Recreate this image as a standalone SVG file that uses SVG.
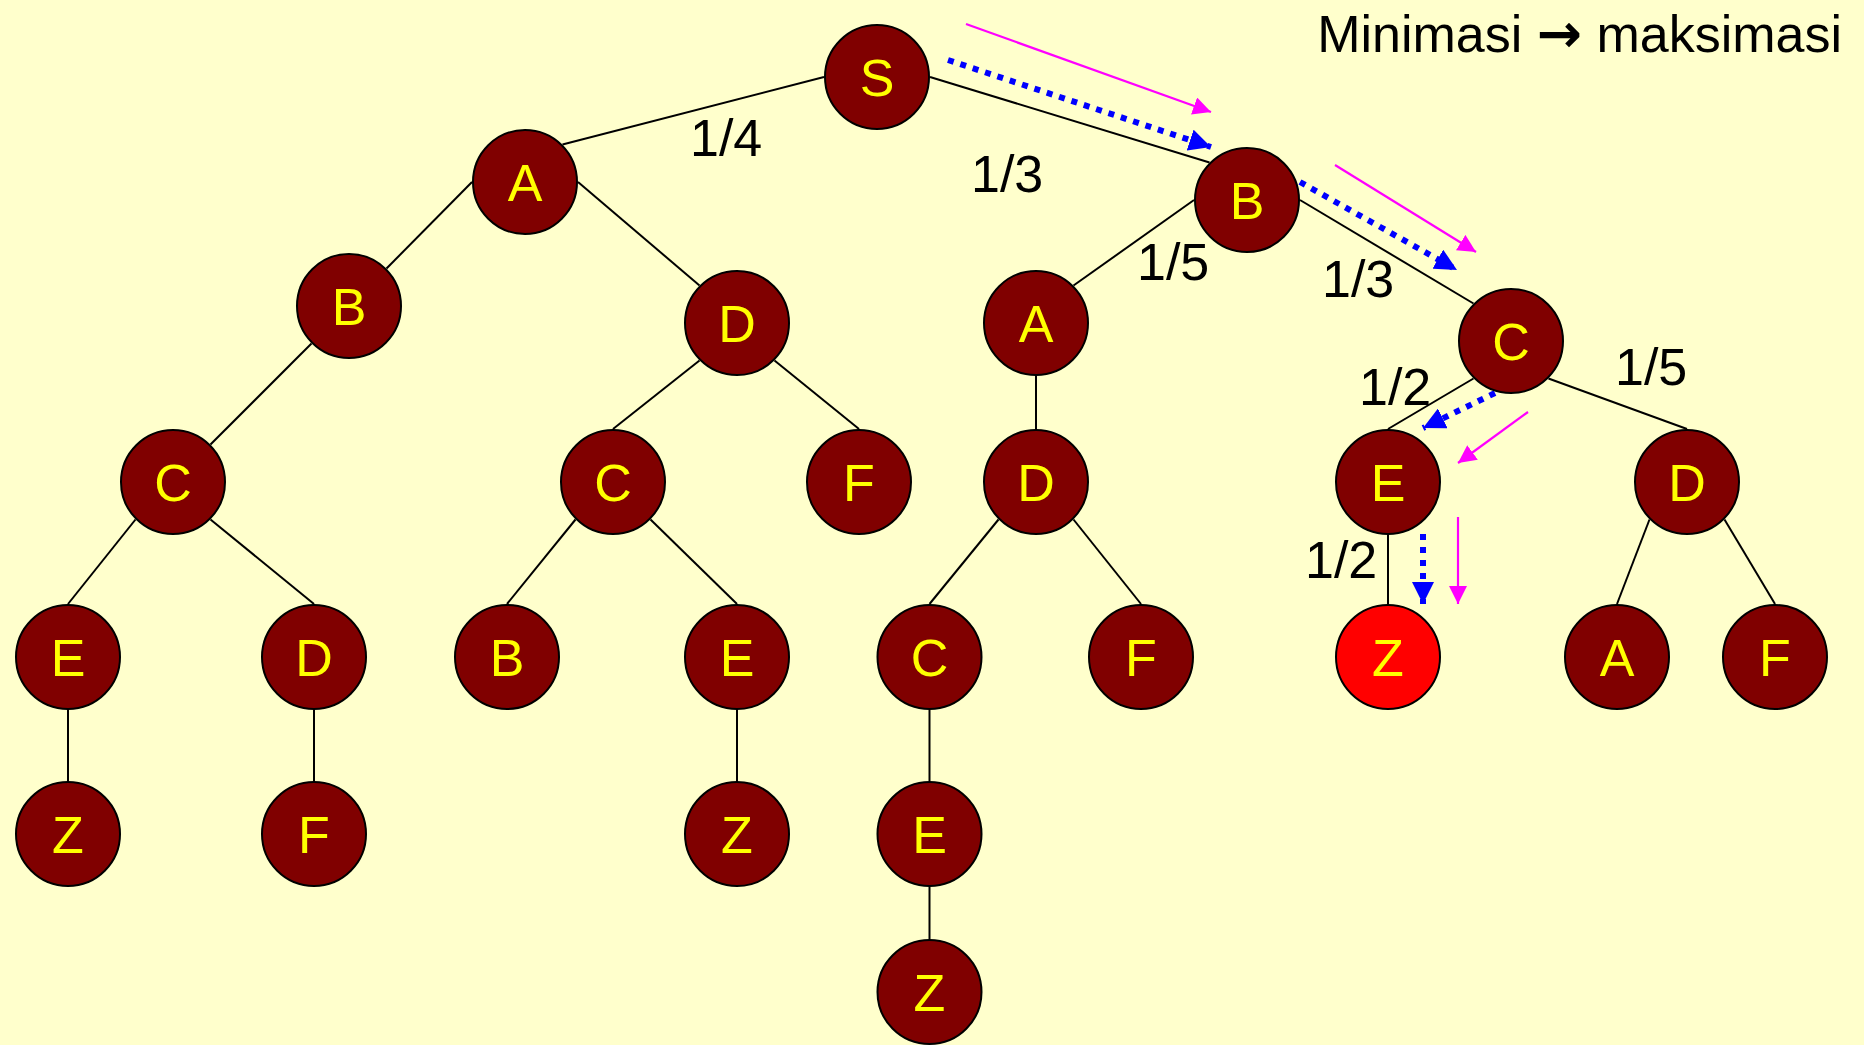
<svg xmlns="http://www.w3.org/2000/svg" width="1864" height="1045" viewBox="0 0 1864 1045">
<defs>
<style>
.n circle{fill:#800000;stroke:#000;stroke-width:2}
.n.goal circle{fill:#FF0000}
.n text{fill:#FFFF00;font-family:"Liberation Sans",Arial,sans-serif;font-size:52px;text-anchor:middle}
.e line{stroke:#000;stroke-width:2}
.lbl{fill:#000;font-family:"Liberation Sans",Arial,sans-serif;font-size:52px}
.blue{stroke:#0000FF;stroke-width:6;stroke-dasharray:6 7;fill:none}
.mag{stroke:#FF00FF;stroke-width:2.2;fill:none}
</style>
<marker id="hb" markerUnits="userSpaceOnUse" markerWidth="22" markerHeight="22" viewBox="0 0 20 20" refX="20" refY="10" orient="auto"><path d="M0,0 L20,10 L0,20 Z" fill="#0000FF"/></marker>
<marker id="hm" markerUnits="userSpaceOnUse" markerWidth="18" markerHeight="18" viewBox="0 0 18 18" refX="18" refY="9" orient="auto"><path d="M0,0 L18,9 L0,18 Z" fill="#FF00FF"/></marker>
</defs>
<rect width="1864" height="1045" fill="#FFFFCC"/>
<text class="lbl" x="1842" y="52" text-anchor="end">Minimasi <tspan font-family="'DejaVu Sans',sans-serif" font-size="54px" font-weight="bold">→</tspan> maksimasi</text>
<g id="connectors" class="e">
<line x1="824" y1="77" x2="562.5" y2="144.5"/>
<line x1="930" y1="77" x2="1209.5" y2="162.5"/>
<line x1="472" y1="182" x2="386.5" y2="268.5"/>
<line x1="578" y1="182" x2="699.5" y2="285.5"/>
<line x1="311.5" y1="343.5" x2="210.5" y2="444.5"/>
<line x1="135.5" y1="519.5" x2="68" y2="604"/>
<line x1="210.5" y1="519.5" x2="314" y2="604"/>
<line x1="68" y1="710" x2="68" y2="781"/>
<line x1="314" y1="710" x2="314" y2="781"/>
<line x1="699.5" y1="360.5" x2="613" y2="429"/>
<line x1="774.5" y1="360.5" x2="859" y2="429"/>
<line x1="575.5" y1="519.5" x2="507" y2="604"/>
<line x1="650.5" y1="519.5" x2="737" y2="604"/>
<line x1="737" y1="710" x2="737" y2="781"/>
<line x1="1194" y1="200" x2="1073.5" y2="285.5"/>
<line x1="1036" y1="376" x2="1036" y2="429"/>
<line x1="998.5" y1="519.5" x2="929.5" y2="604"/>
<line x1="1073.5" y1="519.5" x2="1141" y2="604"/>
<line x1="929.5" y1="710" x2="929.5" y2="781"/>
<line x1="929.5" y1="887" x2="929.5" y2="939"/>
<line x1="1300" y1="200" x2="1473.5" y2="303.5"/>
<line x1="1473.5" y1="378.5" x2="1388" y2="429"/>
<line x1="1548.5" y1="378.5" x2="1687" y2="429"/>
<line x1="1388" y1="535" x2="1388" y2="604"/>
<line x1="1649.5" y1="519.5" x2="1617" y2="604"/>
<line x1="1724.5" y1="519.5" x2="1775" y2="604"/>
</g>
<g id="edge-labels">
<text class="lbl" x="690" y="156">1/4</text>
<text class="lbl" x="971" y="192">1/3</text>
<text class="lbl" x="1137" y="280">1/5</text>
<text class="lbl" x="1322" y="297">1/3</text>
<text class="lbl" x="1359" y="405">1/2</text>
<text class="lbl" x="1615" y="385">1/5</text>
<text class="lbl" x="1305" y="578">1/2</text>
</g>
<g id="search-arrows">
<line class="blue" x1="948" y1="60" x2="1211" y2="147" marker-end="url(#hb)"/>
<line class="mag" x1="966" y1="24" x2="1211" y2="112" marker-end="url(#hm)"/>
<line class="blue" x1="1300" y1="182" x2="1457" y2="270" marker-end="url(#hb)"/>
<line class="mag" x1="1335" y1="165" x2="1476" y2="252" marker-end="url(#hm)"/>
<line class="blue" x1="1495" y1="393" x2="1423" y2="428" marker-end="url(#hb)"/>
<line class="mag" x1="1528" y1="412" x2="1458" y2="463" marker-end="url(#hm)"/>
<line class="blue" x1="1423" y1="534" x2="1423" y2="604" marker-end="url(#hb)"/>
<line class="mag" x1="1458" y1="517" x2="1458" y2="604" marker-end="url(#hm)"/>
</g>
<g id="n-S" class="n"><circle cx="877" cy="77" r="52"/><text x="877" y="96">S</text></g>
<g id="n-A1" class="n"><circle cx="525" cy="182" r="52"/><text x="525" y="201">A</text></g>
<g id="n-B1" class="n"><circle cx="1247" cy="200" r="52"/><text x="1247" y="219">B</text></g>
<g id="n-B2" class="n"><circle cx="349" cy="306" r="52"/><text x="349" y="325">B</text></g>
<g id="n-D1" class="n"><circle cx="737" cy="323" r="52"/><text x="737" y="342">D</text></g>
<g id="n-A2" class="n"><circle cx="1036" cy="323" r="52"/><text x="1036" y="342">A</text></g>
<g id="n-C1" class="n"><circle cx="1511" cy="341" r="52"/><text x="1511" y="360">C</text></g>
<g id="n-C2" class="n"><circle cx="173" cy="482" r="52"/><text x="173" y="501">C</text></g>
<g id="n-C3" class="n"><circle cx="613" cy="482" r="52"/><text x="613" y="501">C</text></g>
<g id="n-F1" class="n"><circle cx="859" cy="482" r="52"/><text x="859" y="501">F</text></g>
<g id="n-D2" class="n"><circle cx="1036" cy="482" r="52"/><text x="1036" y="501">D</text></g>
<g id="n-E1" class="n"><circle cx="1388" cy="482" r="52"/><text x="1388" y="501">E</text></g>
<g id="n-D3" class="n"><circle cx="1687" cy="482" r="52"/><text x="1687" y="501">D</text></g>
<g id="n-E2" class="n"><circle cx="68" cy="657" r="52"/><text x="68" y="676">E</text></g>
<g id="n-D4" class="n"><circle cx="314" cy="657" r="52"/><text x="314" y="676">D</text></g>
<g id="n-B3" class="n"><circle cx="507" cy="657" r="52"/><text x="507" y="676">B</text></g>
<g id="n-E3" class="n"><circle cx="737" cy="657" r="52"/><text x="737" y="676">E</text></g>
<g id="n-C4" class="n"><circle cx="929.5" cy="657" r="52"/><text x="929.5" y="676">C</text></g>
<g id="n-F2" class="n"><circle cx="1141" cy="657" r="52"/><text x="1141" y="676">F</text></g>
<g id="n-Zgoal" class="n goal"><circle cx="1388" cy="657" r="52"/><text x="1388" y="676">Z</text></g>
<g id="n-A3" class="n"><circle cx="1617" cy="657" r="52"/><text x="1617" y="676">A</text></g>
<g id="n-F3" class="n"><circle cx="1775" cy="657" r="52"/><text x="1775" y="676">F</text></g>
<g id="n-Z1" class="n"><circle cx="68" cy="834" r="52"/><text x="68" y="853">Z</text></g>
<g id="n-F4" class="n"><circle cx="314" cy="834" r="52"/><text x="314" y="853">F</text></g>
<g id="n-Z2" class="n"><circle cx="737" cy="834" r="52"/><text x="737" y="853">Z</text></g>
<g id="n-E4" class="n"><circle cx="929.5" cy="834" r="52"/><text x="929.5" y="853">E</text></g>
<g id="n-Z3" class="n"><circle cx="929.5" cy="992" r="52"/><text x="929.5" y="1011">Z</text></g>
</svg>
